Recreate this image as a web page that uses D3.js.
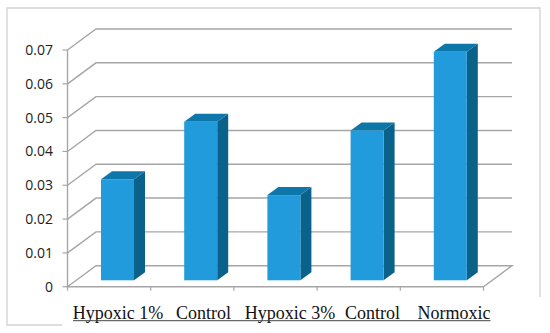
<!DOCTYPE html>
<html>
<head>
<meta charset="utf-8">
<style>
  html, body { margin: 0; padding: 0; background: #fff; }
  svg { display: block; }
</style>
<script src="https://cdn.jsdelivr.net/npm/d3@7"></script>
</head>
<body>
<div id="chart"></div>
<script>
const categories = ["Hypoxic 1%", "Control", "Hypoxic 3%", "Control", "Normoxic"]
const values = [0.0299, 0.0469, 0.0252, 0.0443, 0.0676]
const y_ticks = [0, 0.01, 0.02, 0.03, 0.04, 0.05, 0.06, 0.07]
const y_labels = ["0", "0.01", "0.02", "0.03", "0.04", "0.05", "0.06", "0.07"]
const label_x = [118, 203.5, 290, 372.5, 454]

const width = 550, height = 333,
  depth_x = 28.5, depth_y = 21,   // wall depth of the 3d box
  bar_dx = 11, bar_dy = 8,        // depth of one bar
  bar_w = 33,
  bar_pad = 33.5,                 // band start to front of bar
  bar_base = 280.3

const x = d3.scaleBand().domain(d3.range(categories.length)).range([67.5, 483.5])
const y = d3.scaleLinear().domain([0, 0.07]).range([286.7, 50])
const h = d3.scaleLinear().domain([0, 0.07]).range([0, 236.7])

const svg = d3.select("#chart").append("svg").attr("width", width).attr("height", height)

// outer frame, only partly visible in the picture
svg.append("path").attr("fill", "none").attr("stroke", "#d2d2d2").attr("stroke-width", 1.3)
  .attr("d", "M62,325H7V8H540V297")

// gridlines on side and back wall
const grid_color = "#a6a6a6"
svg.append("g").selectAll("path").data(y_ticks.slice(1)).join("path")
  .attr("fill", "none").attr("stroke", grid_color).attr("stroke-width", 1.4)
  .attr("d", d => `M${x.range()[0]},${y(d)}l${depth_x},${-depth_y}H${x.range()[1] + depth_x}`)

// floor and axes
svg.append("path").attr("fill", "none").attr("stroke", grid_color).attr("stroke-width", 1.4)
  .attr("d", `M${x.range()[0]},${y(0.07)}V${y(0)}l${depth_x},${-depth_y}H${x.range()[1] + depth_x}l${-depth_x},${depth_y}H${x.range()[0]}`)

svg.append("g").selectAll("line").data(y_ticks).join("line")
  .attr("x1", x.range()[0] - 5).attr("x2", x.range()[0])
  .attr("y1", d => y(d)).attr("y2", d => y(d))
  .attr("stroke", grid_color).attr("stroke-width", 1.2)

svg.append("g").selectAll("line").data(d3.range(categories.length + 1)).join("line")
  .attr("x1", i => x.range()[0] + i * x.step()).attr("x2", i => x.range()[0] + i * x.step())
  .attr("y1", y(0)).attr("y2", y(0) + 4)
  .attr("stroke", grid_color).attr("stroke-width", 1.2)

// y labels
svg.append("g").selectAll("text").data(y_ticks).join("text")
  .attr("x", 53).attr("y", d => y(d)).attr("dy", "0.36em")
  .attr("text-anchor", "end")
  .style("font", "14px 'Open Sans'").attr("fill", "#222")
  .text((d, i) => y_labels[i])

// bars
const bar = svg.append("g").selectAll("g").data(values).join("g")
  .attr("transform", (d, i) => `translate(${x(i) + bar_pad},0)`)

bar.append("path").attr("fill", "#0a618a")
  .attr("d", d => `M${bar_w},${bar_base}V${bar_base - h(d)}l${bar_dx},${-bar_dy}V${bar_base - bar_dy}Z`)
bar.append("path").attr("fill", "#0c77a8")
  .attr("d", d => `M0,${bar_base - h(d)}l${bar_dx},${-bar_dy}h${bar_w}l${-bar_dx},${bar_dy}Z`)
bar.append("rect").attr("fill", "#219bdb")
  .attr("x", 0).attr("width", bar_w)
  .attr("y", d => bar_base - h(d)).attr("height", d => h(d))

// category labels, underlined as one run
svg.append("g").selectAll("text").data(categories).join("text")
  .attr("x", (d, i) => label_x[i]).attr("y", 318.5)
  .attr("text-anchor", "middle")
  .style("font", "18px 'Liberation Serif'").attr("fill", "#111")
  .text(d => d)
svg.append("line").attr("x1", 73).attr("x2", 490.5).attr("y1", 320.7).attr("y2", 320.7)
  .attr("stroke", "#444").attr("stroke-width", 1)
</script>
</body>
</html>
